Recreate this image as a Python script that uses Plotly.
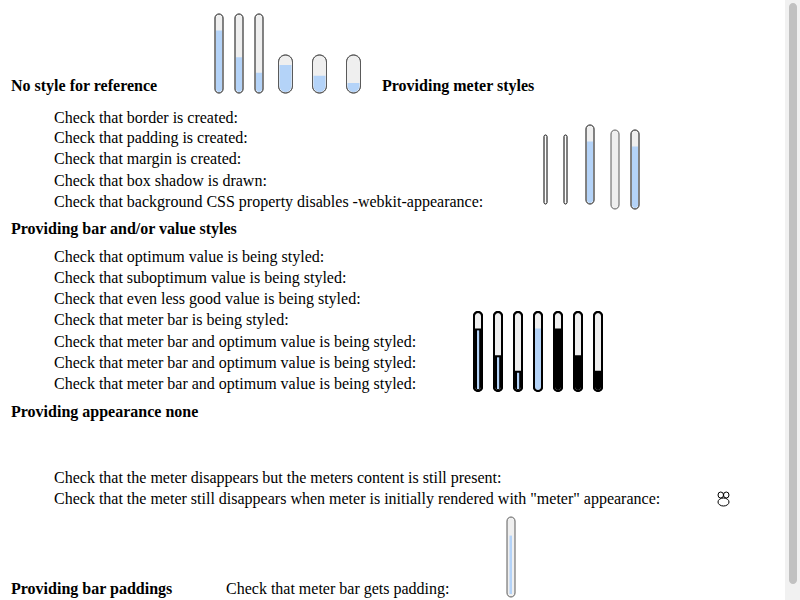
import plotly.graph_objects as go

# ---- data (meter values as fractions of the range) ----
ref_values = [0.8, 0.45, 0.25, 0.75, 0.45, 0.25]
style_values = [0.0, 0.0, 0.8, 0.0, 0.8]
bar_values = [0.8, 0.45, 0.25, 0.8, 0.8, 0.45, 0.25]
padding_values = [0.8]

headings = ["No style for reference", "Providing meter styles",
            "Providing bar and/or value styles", "Providing appearance none",
            "Providing bar paddings"]
style_checks = ["Check that border is created:", "Check that padding is created:",
                "Check that margin is created:", "Check that box shadow is drawn:",
                "Check that background CSS property disables -webkit-appearance:"]
bar_checks = ["Check that optimum value is being styled:",
              "Check that suboptimum value is being styled:",
              "Check that even less good value is being styled:",
              "Check that meter bar is being styled:",
              "Check that meter bar and optimum value is being styled:",
              "Check that meter bar and optimum value is being styled:",
              "Check that meter bar and optimum value is being styled:"]
none_checks = ["Check that the meter disappears but the meters content is still present:",
               "Check that the meter still disappears when meter is initially rendered with \"meter\" appearance:"]
padding_check = "Check that meter bar gets padding:"

# ---- layout geometry ----
heading_pos = [(9, 86), (380, 86), (9, 229), (9, 412), (9, 589)]
style_check_y = [117, 138, 159, 180, 202]
bar_check_y = [257, 278, 299, 320, 342, 363, 384]
none_check_y = [478, 499]
TX = 52

ref_boxes = [(215, 223, 14, 93), (235, 243, 14, 93), (255, 263, 14, 93),
             (278.5, 292.5, 55, 93), (312.5, 326.5, 55, 93), (346.5, 360.5, 55, 93)]
style_boxes = [(544, 547, 135, 204), (564, 567, 135, 204), (586, 594, 125, 204),
               (611, 619, 130, 209), (631, 639, 130, 209)]
bar_boxes = [(474 + 20 * i, 482 + 20 * i, 312, 391) for i in range(7)]
padding_box = (507, 515, 517, 597)

K = 0.5523
BLUE = "#b4d3f8"
TRACK = "#efefef"
OFF = 8  # page body margin


def pill(x0, x1, y0, y1):
    r = (x1 - x0) / 2
    cx = (x0 + x1) / 2
    k = K * r
    return (f"M {x0},{y0 + r} C {x0},{y0 + r - k} {cx - k},{y0} {cx},{y0} "
            f"C {cx + k},{y0} {x1},{y0 + r - k} {x1},{y0 + r} "
            f"L {x1},{y1 - r} C {x1},{y1 - r + k} {cx + k},{y1} {cx},{y1} "
            f"C {cx - k},{y1} {x0},{y1 - r + k} {x0},{y1 - r} Z")


def bottom_part(x0, x1, yt, y1):
    r = (x1 - x0) / 2
    cx = (x0 + x1) / 2
    k = K * r
    return (f"M {x0},{yt} L {x1},{yt} L {x1},{y1 - r} "
            f"C {x1},{y1 - r + k} {cx + k},{y1} {cx},{y1} "
            f"C {cx - k},{y1} {x0},{y1 - r + k} {x0},{y1 - r} Z")


shapes = []


def add_path(path, fill, line_color=None, width=0):
    shapes.append(dict(type="path", path=path, xref="x", yref="y",
                       fillcolor=fill,
                       line=dict(color=line_color or "rgba(0,0,0,0)", width=width),
                       layer="above"))


def meter(box, value, track=TRACK, fill=BLUE, border="#5a5a5a", bw=1, inset=1.0):
    x0, x1, y0, y1 = box
    add_path(pill(x0, x1, y0, y1), track, border, bw)
    if value > 0:
        ix0, ix1, iy0, iy1 = x0 + inset, x1 - inset, y0 + inset, y1 - inset
        yt = iy1 - value * (iy1 - iy0)
        add_path(bottom_part(ix0, ix1, yt, iy1), fill)
        add_path(pill(x0, x1, y0, y1), "rgba(0,0,0,0)", border, bw)


# scrollbar
shapes.append(dict(type="rect", x0=785, x1=801, y0=-1, y1=601, xref="x", yref="y",
                   fillcolor="#f1f1f1", line=dict(width=0), layer="below"))
add_path(pill(789, 797, 3, 584), "#c1c1c1")

for b, v in zip(ref_boxes, ref_values):
    meter(b, v)

for i, (b, v) in enumerate(zip(style_boxes, style_values)):
    if i < 2:
        add_path(pill(*b), "#ffffff", "#000000", 1)
    else:
        meter(b, v)

for i, (b, v) in enumerate(zip(bar_boxes, bar_values)):
    x0, x1, y0, y1 = b
    add_path(pill(x0, x1, y0, y1), TRACK, "#000000", 2)
    yt = (y1 - 1) - v * (y1 - y0 - 2)
    if i < 3:
        add_path(bottom_part(x0 + 1, x1 - 1, yt, y1 - 1), "#000000")
        cx = (x0 + x1) / 2
        shapes.append(dict(type="rect", x0=cx - 1, x1=cx + 1.2, y0=yt + 2, y1=y1 - 2,
                           xref="x", yref="y", fillcolor=BLUE, line=dict(width=0),
                           layer="above"))
    elif i == 3:
        add_path(bottom_part(x0 + 1, x1 - 1, yt, y1 - 1), BLUE)
    else:
        add_path(bottom_part(x0 + 1, x1 - 1, yt, y1 - 1), "#000000")
    add_path(pill(x0, x1, y0, y1), "rgba(0,0,0,0)", "#000000", 2)

# padding meter
px0, px1, py0, py1 = padding_box
add_path(pill(px0, px1, py0, py1), TRACK, "#5a5a5a", 1)
pv = padding_values[0]
inner_top, inner_bot = py0 + 4, py1 - 3
ptop = inner_bot - pv * (inner_bot - inner_top)
shapes.append(dict(type="rect", x0=px0 + 2.5, x1=px1 - 3, y0=ptop, y1=inner_bot,
                   xref="x", yref="y", fillcolor=BLUE, line=dict(width=0), layer="above"))

# tiny glyph left by meter content
for (a0, a1, b0, b1) in [(718, 723.5, 492, 498), (723.5, 729, 492, 498), (718, 729, 498, 506)]:
    shapes.append(dict(type="circle", x0=a0, x1=a1, y0=b0, y1=b1, xref="x", yref="y",
                       fillcolor="rgba(0,0,0,0)", line=dict(color="#000000", width=1)))

annotations = []
FONT = "Liberation Serif"


def text(x, y, s, bold=False, size=16):
    annotations.append(dict(x=x, y=y, xref="x", yref="y", text=f"<b>{s}</b>" if bold else s,
                            showarrow=False, xanchor="left", yanchor="middle",
                            font=dict(family=FONT, size=size, color="#000000")))


for (hx, hy), h in zip(heading_pos, headings):
    text(hx, hy, h, bold=True)
for y, s in zip(style_check_y, style_checks):
    text(TX, y, s)
for y, s in zip(bar_check_y, bar_checks):
    text(TX, y, s)
for y, s in zip(none_check_y, none_checks):
    text(TX, y, s)
text(224, 589, padding_check)

fig = go.Figure()
fig.add_trace(go.Scatter(x=[0, 800], y=[0, 600], mode="markers",
                         marker=dict(opacity=0), hoverinfo="skip", showlegend=False))
fig.update_layout(
    width=800, height=600, margin=dict(l=0, r=0, t=0, b=0),
    paper_bgcolor="#ffffff", plot_bgcolor="#ffffff",
    xaxis=dict(range=[0, 800], visible=False, fixedrange=True),
    yaxis=dict(range=[600, 0], visible=False, fixedrange=True),
    shapes=shapes, annotations=annotations, showlegend=False,
)
fig.write_html("out.html", config={"displayModeBar": False},
               post_script="document.body.style.margin='0';document.body.style.overflow='hidden';"
                           "document.documentElement.style.overflow='hidden';")
